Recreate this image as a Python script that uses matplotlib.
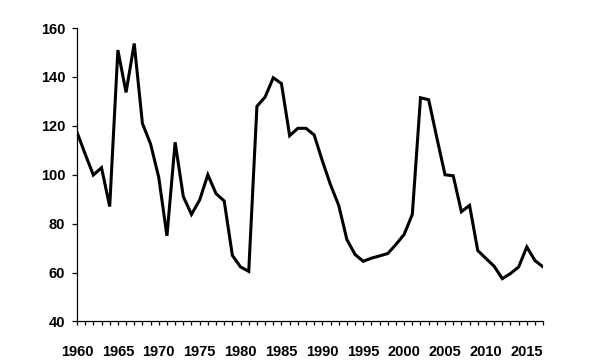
import matplotlib
matplotlib.use("Agg")
from matplotlib import pyplot as plt

years = list(range(1960, 2018))
values = [117.4, 108.5, 99.9, 102.9, 87.0, 151.0, 133.7, 153.7, 121.0, 112.6,
          98.9, 75.0, 113.3, 91.1, 83.8, 89.7, 100.0, 92.3, 89.3, 67.0,
          62.3, 60.5, 128.0, 131.8, 139.7, 137.3, 116.0, 119.0, 119.0, 116.3,
          105.7, 95.9, 87.5, 73.5, 67.4, 64.6, 65.9, 66.8, 67.8, 71.5,
          75.6, 83.8, 131.5, 130.7, 115.1, 100.0, 99.6, 84.9, 87.5, 69.0,
          65.8, 62.6, 57.5, 59.6, 62.3, 70.5, 64.9, 62.3]
y_ticks = [40, 60, 80, 100, 120, 140, 160]
x_label_years = list(range(1960, 2018, 5))

plt.rcParams['font.family'] = ['Liberation Sans', 'DejaVu Sans']

fig = plt.figure(figsize=(6, 3.6), dpi=100)
ax = fig.add_axes([0.1283, 0.107, 0.777, 0.815])
ax.plot(years, values, color='black', linewidth=2.2, solid_joinstyle='miter')

ax.set_xlim(1960, 2017)
ax.set_ylim(40, 160)
ax.set_yticks(y_ticks)
ax.set_xticks(years)
ax.set_xticklabels([str(y) if y in x_label_years else '' for y in years])

for side in ('top', 'right'):
    ax.spines[side].set_visible(False)
for side in ('left', 'bottom'):
    ax.spines[side].set_linewidth(0.9)

ax.tick_params(axis='y', direction='out', length=3.5, width=0.9, pad=5,
               labelsize=10.5)
ax.tick_params(axis='x', direction='out', length=3, width=0.9, pad=14,
               labelsize=10.5)
for lbl in ax.get_xticklabels() + ax.get_yticklabels():
    lbl.set_fontweight('bold')

fig.savefig('out.png', dpi=100)
